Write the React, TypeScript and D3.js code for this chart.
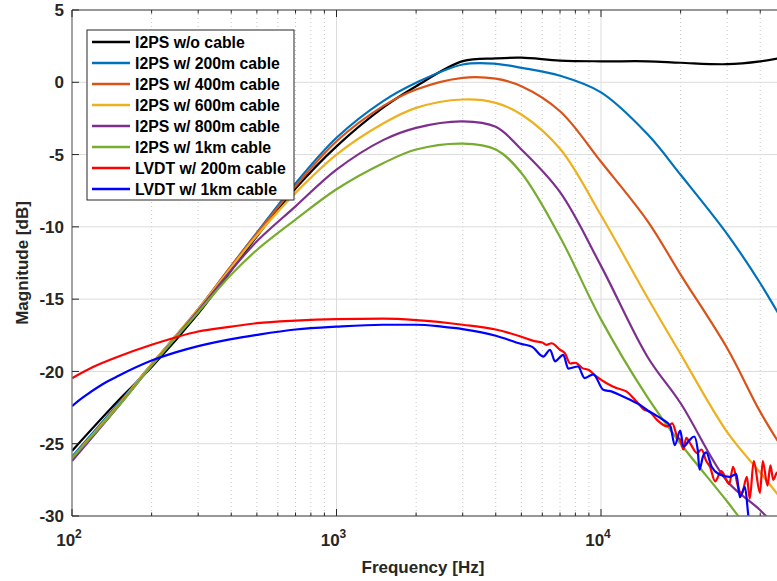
import React, { useEffect, useRef } from 'react';
import * as d3 from 'd3';

// I2PS curves share one frequency grid
const freqs = [100, 150, 200, 300, 400, 500, 700, 1000, 1500, 2000, 3000, 4000, 5000, 7000, 10000, 15000, 20000, 30000, 40000, 50000];
const noCable = [-25.5, -22.0, -19.7, -16.0, -13.0, -10.65, -7.35, -4.43, -1.75, -0.27, 1.46, 1.65, 1.7, 1.5, 1.45, 1.45, 1.35, 1.25, 1.45, 1.75];
const cable200 = [-25.9, -22.2, -19.5, -15.7, -12.7, -10.4, -7.0, -3.84, -1.3, -0.03, 1.23, 1.28, 1.0, 0.45, -0.7, -3.6, -6.4, -10.5, -13.9, -16.9];
const cable400 = [-26.0, -22.3, -19.5, -15.7, -12.7, -10.45, -7.2, -4.08, -1.65, -0.5, 0.31, 0.25, -0.27, -2.0, -5.5, -9.6, -13.3, -18.4, -22.8, -25.7];
const cable600 = [-26.0, -22.3, -19.5, -15.7, -12.8, -10.6, -7.65, -5.0, -2.85, -1.77, -1.19, -1.42, -2.23, -4.6, -9.2, -14.9, -18.8, -24.2, -27.0, -29.2];
const cable800 = [-26.2, -22.4, -19.6, -15.8, -13.0, -11.0, -8.58, -6.04, -4.0, -3.15, -2.7, -3.08, -4.65, -7.6, -12.7, -19.0, -22.2, -27.6, -29.6, -31.5];
const cable1k = [-26.0, -22.4, -19.6, -15.9, -13.3, -11.6, -9.5, -7.4, -5.6, -4.65, -4.24, -4.65, -6.27, -10.7, -16.4, -21.8, -25.0, -29.0, -32.0, -34.0];

// LVDT curves (measured, noisy at high frequency)
const lvdt200Freq = [100, 120, 150, 200, 300, 400, 500, 700, 1000, 1500, 2000, 3000, 4000, 5000, 5600, 6000, 6220, 6500, 7000, 7300, 7640, 8000, 8500, 9000, 9600, 10460, 11430, 12500, 13650, 14450, 15300, 16280, 17780, 18600, 19400, 19930, 20500, 21000, 21770, 23080, 24000, 25000, 25830, 27000, 28500, 30530, 31570, 33000, 34000, 35600, 36500, 37800, 39900, 40900, 42600, 43700, 44800, 46300, 48000];
const lvdt200 = [-20.47, -19.7, -18.97, -18.16, -17.24, -16.9, -16.66, -16.48, -16.38, -16.35, -16.45, -16.77, -17.1, -17.6, -17.9, -18.0, -18.16, -18.05, -18.5, -18.73, -19.45, -19.4, -19.77, -19.9, -20.35, -20.8, -21.15, -21.4, -22.1, -22.6, -22.8, -23.35, -23.8, -23.6, -24.5, -24.74, -25.4, -24.6, -25.0, -25.65, -25.4, -26.2, -26.6, -27.6, -26.9, -27.8, -26.6, -28.0, -28.5, -27.3, -28.8, -26.2, -28.4, -26.2, -27.9, -26.5, -27.5, -27.0, -27.4];
const lvdt1kFreq = [100, 110, 130, 150, 200, 250, 300, 400, 500, 700, 1000, 1500, 2000, 2500, 3000, 4000, 5000, 5500, 6050, 6420, 6700, 7200, 7520, 8180, 8680, 9350, 10200, 11000, 12000, 13000, 14000, 15000, 16000, 17000, 18300, 19000, 19930, 20500, 21500, 22500, 23200, 23570, 24280, 25000, 26200, 27850, 30530, 32500, 33500, 35000, 36200, 37500];
const lvdt1k = [-22.4, -21.8, -20.9, -20.3, -19.25, -18.65, -18.25, -17.76, -17.47, -17.1, -16.9, -16.77, -16.77, -16.9, -17.07, -17.53, -18.1, -18.3, -18.97, -18.5, -19.3, -18.85, -19.8, -19.66, -20.46, -20.2, -21.27, -21.4, -21.7, -22.0, -22.3, -22.7, -23.0, -23.3, -23.8, -25.1, -24.1, -25.2, -24.8, -24.5, -25.4, -26.8, -25.9, -25.6, -26.6, -27.1, -27.3, -27.1, -28.7, -28.0, -30.2, -31.0];

const labels = ['I2PS w/o cable', 'I2PS w/ 200m cable', 'I2PS w/ 400m cable', 'I2PS w/ 600m cable', 'I2PS w/ 800m cable', 'I2PS w/ 1km cable', 'LVDT w/ 200m cable', 'LVDT w/ 1km cable'];
const colors = ['#000000', '#0072BD', '#D95319', '#EDB120', '#7E2F8E', '#77AC30', '#FF0000', '#0000FF'];
const yTicks = [-30, -25, -20, -15, -10, -5, 0, 5];
const xMajor = [100, 1000, 10000];
const xMinor = [200, 300, 400, 500, 600, 700, 800, 900, 2000, 3000, 4000, 5000, 6000, 7000, 8000, 9000, 20000, 30000, 40000];

const App = () => {
  const svgRef = useRef<SVGSVGElement>(null);

  useEffect(() => {
    const width = 777;
    const height = 581;
    const left = 72, top = 10, bottom = 516;
    const right = left + 264.5 * Math.log10(500);
    const font = '"Liberation Sans", Arial, sans-serif';
    const ink = '#262626';

    const svg = d3.select(svgRef.current);
    svg.selectAll('*').remove();
    svg.attr('width', width).attr('height', height);

    const x = d3.scaleLog().domain([100, 50000]).range([left, right]);
    const y = d3.scaleLinear().domain([-30, 5]).range([bottom, top]);

    svg.append('rect').attr('width', width).attr('height', height).attr('fill', '#fff');

    // grid
    const grid = svg.append('g');
    grid.selectAll('line.minor').data(xMinor).enter().append('line')
      .attr('x1', d => x(d)).attr('x2', d => x(d)).attr('y1', top).attr('y2', bottom)
      .attr('stroke', '#c8c8c8').attr('stroke-width', 1).attr('stroke-dasharray', '1,3');
    grid.selectAll('line.xmaj').data(xMajor).enter().append('line')
      .attr('x1', d => x(d)).attr('x2', d => x(d)).attr('y1', top).attr('y2', bottom)
      .attr('stroke', '#dcdcdc').attr('stroke-width', 1);
    grid.selectAll('line.ymaj').data(yTicks).enter().append('line')
      .attr('x1', left).attr('x2', right).attr('y1', d => y(d)).attr('y2', d => y(d))
      .attr('stroke', '#dcdcdc').attr('stroke-width', 1);

    // curves
    svg.append('clipPath').attr('id', 'plotclip').append('rect')
      .attr('x', left).attr('y', top).attr('width', right - left).attr('height', bottom - top);

    const series = [
      { f: freqs, v: noCable, smooth: true },
      { f: freqs, v: cable200, smooth: true },
      { f: freqs, v: cable400, smooth: true },
      { f: freqs, v: cable600, smooth: true },
      { f: freqs, v: cable800, smooth: true },
      { f: freqs, v: cable1k, smooth: true },
      { f: lvdt200Freq, v: lvdt200, smooth: false },
      { f: lvdt1kFreq, v: lvdt1k, smooth: false },
    ];

    const smoothLine = d3.line<[number, number]>()
      .x(d => x(d[0]))
      .y(d => y(d[1]))
      .curve(d3.curveCatmullRom.alpha(0.5));
    const roughLine = d3.line<[number, number]>()
      .x(d => x(d[0]))
      .y(d => y(d[1]))
      .curve(d3.curveMonotoneX);

    const curves = svg.append('g').attr('clip-path', 'url(#plotclip)');
    series.forEach((s, i) => {
      const pts = s.f.map((f, j) => [f, s.v[j]] as [number, number]);
      curves.append('path')
        .attr('d', (s.smooth ? smoothLine : roughLine)(pts))
        .attr('fill', 'none')
        .attr('stroke', colors[i])
        .attr('stroke-width', 2.2)
        .attr('stroke-linejoin', 'round');
    });

    // axes box (left, bottom, top)
    const axisColor = '#7a7a7a';
    svg.append('line').attr('x1', left).attr('x2', left).attr('y1', top).attr('y2', bottom)
      .attr('stroke', axisColor).attr('stroke-width', 1.3);
    svg.append('line').attr('x1', left).attr('x2', right).attr('y1', bottom).attr('y2', bottom)
      .attr('stroke', axisColor).attr('stroke-width', 1.3);
    svg.append('line').attr('x1', left).attr('x2', right).attr('y1', top).attr('y2', top)
      .attr('stroke', axisColor).attr('stroke-width', 1.3);

    // ticks
    const ticks = svg.append('g').attr('stroke', ink).attr('stroke-width', 1);
    xMajor.forEach(t => {
      ticks.append('line').attr('x1', x(t)).attr('x2', x(t)).attr('y1', bottom).attr('y2', bottom - 7);
      ticks.append('line').attr('x1', x(t)).attr('x2', x(t)).attr('y1', top).attr('y2', top + 7);
    });
    xMinor.forEach(t => {
      ticks.append('line').attr('x1', x(t)).attr('x2', x(t)).attr('y1', bottom).attr('y2', bottom - 3.5);
      ticks.append('line').attr('x1', x(t)).attr('x2', x(t)).attr('y1', top).attr('y2', top + 3.5);
    });
    yTicks.forEach(t => {
      ticks.append('line').attr('x1', left).attr('x2', left + 7).attr('y1', y(t)).attr('y2', y(t));
    });

    // tick labels
    svg.selectAll('text.ytick').data(yTicks).enter().append('text')
      .attr('x', 64).attr('y', d => y(d)).attr('dy', '0.36em')
      .attr('text-anchor', 'end')
      .style('font-family', font).style('font-weight', 'bold').style('font-size', '17px')
      .attr('fill', ink)
      .text(d => String(d));

    xMajor.forEach(t => {
      const txt = svg.append('text')
        .attr('x', x(t) - 3).attr('y', 546)
        .attr('text-anchor', 'middle')
        .style('font-family', font).style('font-weight', 'bold').style('font-size', '17px')
        .attr('fill', ink);
      txt.append('tspan').text('10');
      txt.append('tspan').attr('dy', -8).style('font-size', '12px').text(String(Math.round(Math.log10(t))));
    });

    // axis titles
    svg.append('text')
      .attr('x', (left + right) / 2 - 6).attr('y', 573)
      .attr('text-anchor', 'middle')
      .style('font-family', font).style('font-weight', 'bold').style('font-size', '17px')
      .attr('fill', ink)
      .text('Frequency [Hz]');

    svg.append('text')
      .attr('transform', `translate(28,${(top + bottom) / 2}) rotate(-90)`)
      .attr('text-anchor', 'middle')
      .style('font-family', font).style('font-weight', 'bold').style('font-size', '17px')
      .attr('fill', ink)
      .text('Magnitude [dB]');

    // legend
    const legend = svg.append('g');
    legend.append('rect')
      .attr('x', 87).attr('y', 30).attr('width', 207).attr('height', 170)
      .attr('fill', '#fff').attr('stroke', ink).attr('stroke-width', 1);
    labels.forEach((lab, i) => {
      const ly = 42 + i * 21;
      legend.append('line').attr('x1', 92).attr('x2', 130).attr('y1', ly).attr('y2', ly)
        .attr('stroke', colors[i]).attr('stroke-width', 2.4);
      legend.append('text').attr('x', 135).attr('y', ly).attr('dy', '0.36em')
        .style('font-family', font).style('font-weight', 'bold').style('font-size', '15.8px')
        .attr('fill', '#000')
        .text(lab);
    });
  }, []);

  return (
    <div>
      <svg ref={svgRef} style={{ position: 'absolute', left: 0, top: 0, display: 'block' }}></svg>
    </div>
  );
};

export default App;
